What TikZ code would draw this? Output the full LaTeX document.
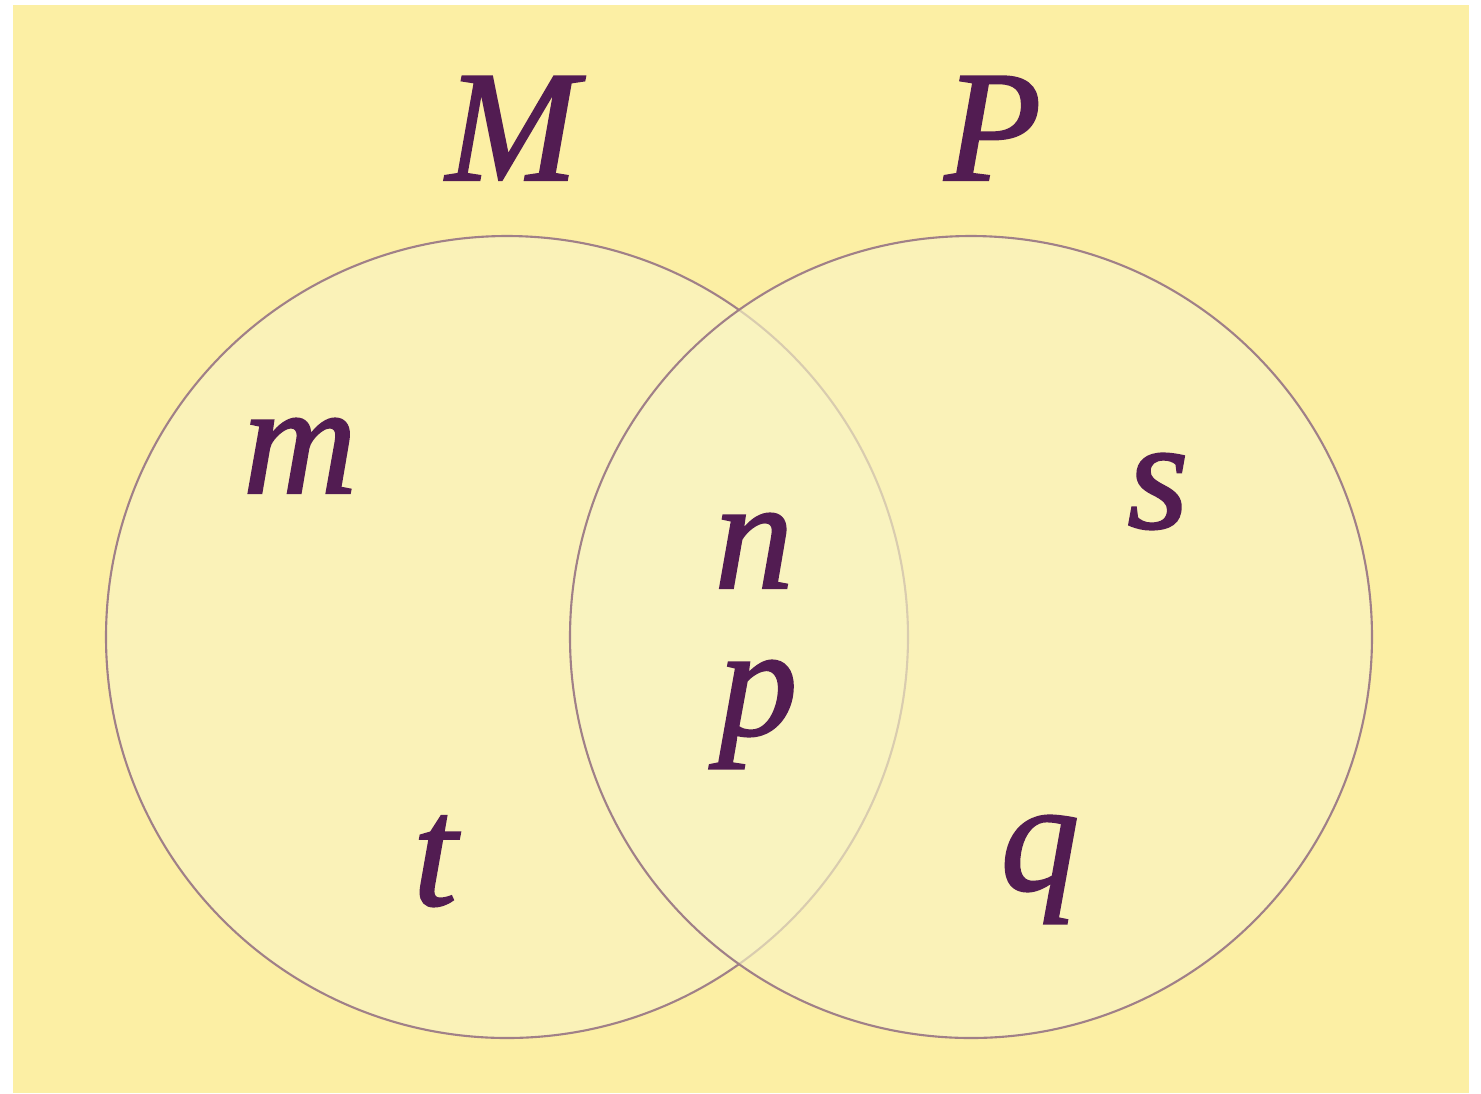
\documentclass[tikz,border=0pt]{standalone}
\usepackage{fontspec}
\setmainfont{Liberation Serif}
\newfontface\labelface{Liberation Serif Italic}[FakeBold=1.3]
\definecolor{backyellow}{RGB}{252,239,164}
\definecolor{circfill}{RGB}{249,245,196}
\definecolor{circline}{RGB}{160,128,136}
\definecolor{letterpurple}{RGB}{82,28,82}
\begin{document}
\begin{tikzpicture}[x = 0.01cm, y = -0.01cm,
    setcircle/.style = {draw = circline, line width = 0.6pt, fill = circfill, fill opacity = 0.65},
    setlabel/.style = {text = letterpurple, anchor = base, inner sep = 0pt,
      font = \fontsize{45}{48}\labelface}]
    \useasboundingbox (0, 0) rectangle (1481, 1093);
    \fill[backyellow] (13, 5) rectangle (1469, 1093);

    \draw[setcircle] (507, 637) circle (401);
    \draw[setcircle] (971, 637) circle (401);

    \node[setlabel] (labM) at (512, 180) {M};
    \node[setlabel] (labP) at (993, 180) {P};

    \node[setlabel] (elm) at (300, 493) {m};
    \node[setlabel] (elt) at (435, 905) {t};
    \node[setlabel] (eln) at (754, 588) {n};
    \node[setlabel] (elp) at (758, 735) {p};
    \node[setlabel] (els) at (1158, 528) {s};
    \node[setlabel] (elq) at (1040, 890) {q};

  \end{tikzpicture}
\end{document}
